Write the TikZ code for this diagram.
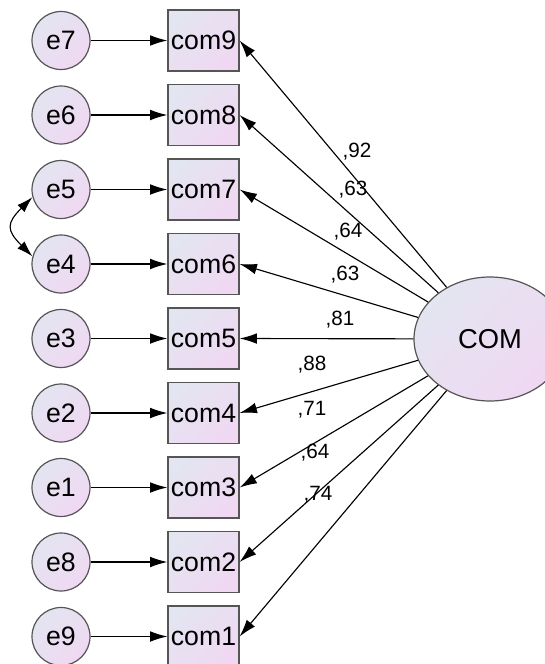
\documentclass[tikz,border=0pt]{standalone}
\usepackage{fontspec}
\setmainfont{Liberation Sans}
\usetikzlibrary{arrows.meta,shapes.geometric}
\definecolor{semblue}{HTML}{E3E5F1}
\definecolor{sempink}{HTML}{F0D8F2}
\definecolor{semline}{HTML}{555555}

\begin{document}
\begin{tikzpicture}[x=0.75pt, y=0.75pt,
    errNode/.style={circle, draw=semline, line width=0.9pt, top color=semblue, bottom color=sempink, shading angle=45, minimum size=43.5pt, inner sep=0pt, font=\fontsize{20}{20}\selectfont},
    obsNode/.style={rectangle, draw=semline, line width=0.9pt, top color=semblue, bottom color=sempink, shading angle=45, minimum width=53.25pt, minimum height=45.75pt, inner sep=0pt, font=\fontsize{20}{20}\selectfont},
    latNode/.style={ellipse, draw=semline, line width=0.9pt, top color=semblue, bottom color=sempink, shading angle=45, minimum width=114pt, minimum height=93pt, inner sep=0pt, font=\fontsize{20.5}{20}\selectfont},
    pathArrow/.style={-{Latex[length=13pt,width=8pt]}, line width=0.85pt},
    covArrow/.style={{Latex[length=12pt,width=7.5pt]}-{Latex[length=12pt,width=7.5pt]}, line width=0.85pt},
    loadLabel/.style={font=\fontsize{15.5}{16}\selectfont, inner sep=0pt}
]
    \useasboundingbox[fill=white] (0,0) rectangle (545,-664);

    % error terms
    \node[errNode] (e7) at (61,-40.5) {e7};
    \node[errNode] (e6) at (61,-115) {e6};
    \node[errNode] (e5) at (61,-189.5) {e5};
    \node[errNode] (e4) at (61,-264) {e4};
    \node[errNode] (e3) at (61,-338.5) {e3};
    \node[errNode] (e2) at (61,-413) {e2};
    \node[errNode] (e1) at (61,-487.5) {e1};
    \node[errNode] (e8) at (61,-562) {e8};
    \node[errNode] (e9) at (61,-636.5) {e9};

    % observed items
    \node[obsNode] (com9) at (203.5,-40.5) {com9};
    \node[obsNode] (com8) at (203.5,-115) {com8};
    \node[obsNode] (com7) at (203.5,-189.5) {com7};
    \node[obsNode] (com6) at (203.5,-264) {com6};
    \node[obsNode] (com5) at (203.5,-338.5) {com5};
    \node[obsNode] (com4) at (203.5,-413) {com4};
    \node[obsNode] (com3) at (203.5,-487.5) {com3};
    \node[obsNode] (com2) at (203.5,-562) {com2};
    \node[obsNode] (com1) at (203.5,-636.5) {com1};

    % latent factor
    \node[latNode] (COM) at (490,-339) {COM};

    \draw[pathArrow] (e7) -- (com9);
    \draw[pathArrow] (e6) -- (com8);
    \draw[pathArrow] (e5) -- (com7);
    \draw[pathArrow] (e4) -- (com6);
    \draw[pathArrow] (e3) -- (com5);
    \draw[pathArrow] (e2) -- (com4);
    \draw[pathArrow] (e1) -- (com3);
    \draw[pathArrow] (e8) -- (com2);
    \draw[pathArrow] (e9) -- (com1);

    \draw[covArrow] (e5.195) to[out=225, in=135, looseness=1.6] (e4.165);

    \draw[pathArrow] (COM) -- (com9.east);
    \draw[pathArrow] (COM) -- (com8.east);
    \draw[pathArrow] (COM) -- (com7.east);
    \draw[pathArrow] (COM) -- (com6.east);
    \draw[pathArrow] (COM) -- (com5.east);
    \draw[pathArrow] (COM) -- (com4.east);
    \draw[pathArrow] (COM) -- (com3.east);
    \draw[pathArrow] (COM) -- (com2.east);
    \draw[pathArrow] (COM) -- (com1.east);

    % standardized loadings
    \node[loadLabel] (w9) at (357,-152) {,92};
    \node[loadLabel] (w8) at (353,-190) {,63};
    \node[loadLabel] (w7) at (348,-232) {,64};
    \node[loadLabel] (w6) at (345,-275) {,63};
    \node[loadLabel] (w5) at (340,-320) {,81};
    \node[loadLabel] (w4) at (312,-365) {,88};
    \node[loadLabel] (w3) at (312,-410) {,71};
    \node[loadLabel] (w2) at (315,-453) {,64};
    \node[loadLabel] (w1) at (318,-495) {,74};
\end{tikzpicture}
\end{document}
